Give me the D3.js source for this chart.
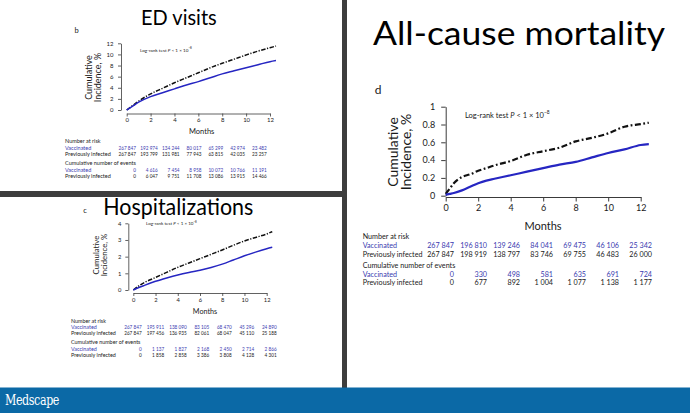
<!DOCTYPE html>
<html><head><meta charset="utf-8">
<script src="https://cdn.jsdelivr.net/npm/d3@7"></script>
<style>
body{margin:0;background:#fff;}
svg{display:block;font-family:Lato,"Noto Sans",sans-serif;}
</style>
</head><body>
<svg id="chart" width="690" height="413"></svg>
<script>
// ---------------- DATA ----------------
const monthTicks = [0, 2, 4, 6, 8, 10, 12];
const tableMonths = [0, 2, 4, 6, 8, 10, 12];

// b: ED visits
const edMonths = [0, 0.5, 1, 2, 3, 4, 5, 6, 7, 8, 9, 10, 11, 12, 12.5];
const edVaccinated = [0, 0.7, 1.4, 2.4, 3.1, 3.8, 4.5, 5.1, 5.8, 6.5, 7.05, 7.6, 8.15, 8.7, 8.9];
const edPrevInfected = [0, 0.8, 1.6, 2.9, 3.9, 4.9, 5.8, 6.7, 7.6, 8.4, 9.15, 9.9, 10.6, 11.2, 11.5];
const edYTicks = [0, 2, 4, 6, 8, 10, 12];
const edRiskVacc = [267847, 192974, 134244, 80017, 65299, 42974, 23482];
const edRiskPrev = [267847, 193799, 131981, 77943, 63815, 42035, 23257];
const edEventsVacc = [0, 4616, 7454, 8958, 10072, 10766, 11191];
const edEventsPrev = [0, 6047, 9751, 11708, 13086, 13915, 14466];

// c: Hospitalizations
const hospMonths = [0, 0.5, 1, 2, 3, 4, 5, 6, 7, 8, 9, 10, 11, 12, 12.5];
const hospVaccinated = [0, 0.15, 0.28, 0.52, 0.72, 0.9, 1.05, 1.18, 1.35, 1.55, 1.8, 2.05, 2.27, 2.47, 2.56];
const hospPrevInfected = [0, 0.25, 0.45, 0.75, 1.06, 1.36, 1.62, 1.88, 2.14, 2.4, 2.68, 2.94, 3.15, 3.36, 3.5];
const hospYTicks = [0, 1, 2, 3, 4];
const hospRiskVacc = [267847, 195911, 138090, 83105, 68470, 45296, 24890];
const hospRiskPrev = [267847, 197456, 136935, 82061, 68047, 45110, 25188];
const hospEventsVacc = [0, 1137, 1827, 2168, 2450, 2714, 2866];
const hospEventsPrev = [0, 1858, 2858, 3386, 3808, 4128, 4301];

// d: All-cause mortality
const mortMonths = [0, 0.25, 0.5, 1, 1.5, 2, 2.5, 3, 4, 5, 6, 7, 8, 9, 10, 11, 12, 12.5];
const mortVaccinated = [0.01, 0.02, 0.03, 0.06, 0.10, 0.14, 0.17, 0.19, 0.23, 0.27, 0.31, 0.35, 0.38, 0.43, 0.48, 0.52, 0.57, 0.58];
const mortPrevInfected = [0.02, 0.08, 0.14, 0.21, 0.24, 0.28, 0.31, 0.34, 0.39, 0.46, 0.50, 0.54, 0.61, 0.65, 0.70, 0.775, 0.805, 0.82];
const mortYTicks = [0, 0.2, 0.4, 0.6, 0.8, 1];
const mortRiskVacc = [267847, 196810, 139246, 84041, 69475, 46106, 25342];
const mortRiskPrev = [267847, 198919, 138797, 83746, 69755, 46483, 26000];
const mortEventsVacc = [0, 330, 498, 581, 635, 691, 724];
const mortEventsPrev = [0, 677, 892, 1004, 1077, 1138, 1177];

// ---------------- STYLE ----------------
const BLUE_LINE = "#2626c2";
const BLUE_TEXT = "#3b3bb0";
const DARK = "#1a1a1a";
const AXIS = "#3a3a3a";

const svg = d3.select("#chart");
const fmt = n => d3.format(",")(n).replace(/,/g, " ");

// separators & footer
svg.append("rect").attr("x", 342).attr("y", 0).attr("width", 5).attr("height", 388).attr("fill", "#3d3d3d");
svg.append("rect").attr("x", 0).attr("y", 191).attr("width", 342).attr("height", 6).attr("fill", "#3d3d3d");
svg.append("rect").attr("x", 0).attr("y", 387.5).attr("width", 690).attr("height", 26).attr("fill", "#0b69a6");
svg.append("text").attr("x", 5).attr("y", 405).attr("fill", "#fff")
  .attr("font-family", "'DejaVu Serif','Liberation Serif',serif").attr("font-size", 14)
  .attr("textLength", 54).attr("lengthAdjust", "spacingAndGlyphs").attr("letter-spacing", -0.5)
  .text("Medscape");

function drawPanel(cfg) {
  const g = svg.append("g");
  // title
  g.append("text").attr("x", cfg.title.x).attr("y", cfg.title.base)
    .attr("font-size", cfg.title.size).attr("fill", "#000")
    .attr("textLength", cfg.title.w).attr("lengthAdjust", "spacingAndGlyphs")
    .text(cfg.title.text);
  // panel letter
  g.append("text").attr("x", cfg.letter.x).attr("y", cfg.letter.y)
    .attr("dominant-baseline", "central").attr("text-anchor", "middle")
    .attr("font-size", cfg.letter.size).attr("fill", DARK).text(cfg.letter.text);

  const x = d3.scaleLinear().domain([0, 12]).range([cfg.x0, cfg.x1]);
  const y = d3.scaleLinear().domain([0, cfg.yMax]).range([cfg.y0, cfg.y1]);

  // axes
  const yAxis = d3.axisLeft(y).tickValues(cfg.yTicks).tickFormat(cfg.yFmt)
    .tickSize(cfg.tickSize).tickPadding(cfg.yPad).tickSizeOuter(0);
  const xAxis = d3.axisBottom(x).tickValues(monthTicks).tickFormat(d3.format("d"))
    .tickSize(cfg.tickSize).tickPadding(cfg.xPad).tickSizeOuter(0);
  const ya = g.append("g").attr("transform", `translate(${cfg.yAxisX},0)`).call(yAxis);
  const xa = g.append("g").attr("transform", `translate(0,${cfg.xAxisY})`).call(xAxis);
  [ya, xa].forEach(a => {
    a.select(".domain").attr("stroke", AXIS).attr("stroke-width", cfg.axisW);
    a.selectAll(".tick line").attr("stroke", AXIS).attr("stroke-width", cfg.axisW);
    a.selectAll("text").attr("font-size", cfg.tickFont).attr("fill", DARK)
      .attr("font-family", "Lato,'Noto Sans',sans-serif");
  });

  // axis titles
  g.append("text").attr("x", cfg.monthsLab.x).attr("y", cfg.monthsLab.y)
    .attr("text-anchor", "middle").attr("dominant-baseline", "central")
    .attr("font-size", cfg.monthsLab.size).attr("fill", DARK).text("Months");
  ["Cumulative", "Incidence, %"].forEach((t, i) => {
    g.append("text")
      .attr("transform", `translate(${cfg.yLab.xs[i]},${cfg.yLab.cy}) rotate(-90)`)
      .attr("text-anchor", "middle").attr("dominant-baseline", "central")
      .attr("font-size", cfg.yLab.size).attr("fill", DARK).text(t);
  });

  // log-rank text
  const lr = g.append("text").attr("x", cfg.logrank.x).attr("y", cfg.logrank.y)
    .attr("dominant-baseline", "central").attr("font-size", cfg.logrank.size).attr("fill", DARK);
  lr.append("tspan").text("Log-rank test ");
  lr.append("tspan").attr("font-style", "italic").text("P");
  lr.append("tspan").text(" < 1 \u00d7 10");
  lr.append("tspan").attr("dy", -cfg.logrank.size * 0.4).attr("font-size", cfg.logrank.size * 0.65).text("\u22128");

  // curves
  const line = d3.line().x(d => x(d[0])).y(d => y(d[1])).curve(d3.curveMonotoneX);
  g.append("path").datum(d3.zip(cfg.months, cfg.prev)).attr("d", line)
    .attr("fill", "none").attr("stroke", "#111").attr("stroke-width", cfg.lineW)
    .attr("stroke-dasharray", cfg.dash);
  g.append("path").datum(d3.zip(cfg.months, cfg.vacc)).attr("d", line)
    .attr("fill", "none").attr("stroke", BLUE_LINE).attr("stroke-width", cfg.lineW);

  // risk table
  const col = d3.scaleLinear().domain([0, 12]).range([cfg.table.first, cfg.table.first + 6 * cfg.table.step]);
  const rows = [
    { label: "Number at risk", color: DARK, vals: null },
    { label: "Vaccinated", color: BLUE_TEXT, vals: cfg.riskVacc },
    { label: "Previously infected", color: DARK, vals: cfg.riskPrev },
    { label: "Cumulative number of events", color: DARK, vals: null },
    { label: "Vaccinated", color: BLUE_TEXT, vals: cfg.evVacc },
    { label: "Previously infected", color: DARK, vals: cfg.evPrev }
  ];
  rows.forEach((r, i) => {
    const yy = cfg.table.ys[i];
    g.append("text").attr("x", cfg.table.labelX).attr("y", yy)
      .attr("dominant-baseline", "central").attr("font-size", cfg.table.size)
      .attr("fill", r.color).text(r.label);
    if (r.vals) {
      g.selectAll(null).data(r.vals).enter().append("text")
        .attr("x", (d, j) => col(tableMonths[j])).attr("y", yy)
        .attr("text-anchor", "end").attr("dominant-baseline", "central")
        .attr("font-size", cfg.table.numSize).attr("fill", r.color)
        .text(d => fmt(d));
    }
  });
}

// Panel b: ED visits
drawPanel({
  title: { text: "ED visits", x: 141, base: 25, w: 75.7, size: 21 },
  letter: { text: "b", x: 76.7, y: 30, size: 7.5 },
  x0: 126.7, x1: 270, y0: 110, y1: 43.3, yMax: 12,
  yTicks: edYTicks, yFmt: d3.format("d"),
  yAxisX: 121, xAxisY: 113.5, tickSize: 3, yPad: 4.5, xPad: 1.5, tickFont: 6, axisW: 0.8,
  monthsLab: { x: 201.7, y: 131.7, size: 7.5 },
  yLab: { xs: [88.3, 97.7], cy: 77.5, size: 9 },
  logrank: { x: 140, y: 50, size: 4.6 },
  months: edMonths, vacc: edVaccinated, prev: edPrevInfected,
  lineW: 1.5, dash: "4.5,1.5,1.2,1.5",
  riskVacc: edRiskVacc, riskPrev: edRiskPrev, evVacc: edEventsVacc, evPrev: edEventsPrev,
  table: { labelX: 65, ys: [141, 148.3, 154.3, 163.3, 169.7, 175.7], first: 136, step: 21.8, size: 5.5, numSize: 4.7 }
});

// Panel c: Hospitalizations
drawPanel({
  title: { text: "Hospitalizations", x: 103.3, base: 215, w: 150, size: 23.5 },
  letter: { text: "c", x: 85, y: 210, size: 7.5 },
  x0: 133.3, x1: 266.7, y0: 290, y1: 223.3, yMax: 4,
  yTicks: hospYTicks, yFmt: d3.format("d"),
  yAxisX: 128.3, xAxisY: 293, tickSize: 3, yPad: 4, xPad: 1.5, tickFont: 5.8, axisW: 0.8,
  monthsLab: { x: 205, y: 311.7, size: 7.2 },
  yLab: { xs: [96, 104.3], cy: 255, size: 7.8 },
  logrank: { x: 146, y: 223.3, size: 4.5 },
  months: hospMonths, vacc: hospVaccinated, prev: hospPrevInfected,
  lineW: 1.5, dash: "4.5,1.5,1.2,1.5",
  riskVacc: hospRiskVacc, riskPrev: hospRiskPrev, evVacc: hospEventsVacc, evPrev: hospEventsPrev,
  table: { labelX: 71, ys: [320.7, 327.3, 333.3, 342.3, 348.7, 355], first: 141.7, step: 22.5, size: 5.4, numSize: 4.7 }
});

// Panel d: All-cause mortality
drawPanel({
  title: { text: "All-cause mortality", x: 373, base: 45, w: 292, size: 32 },
  letter: { text: "d", x: 378, y: 89, size: 12 },
  x0: 445.7, x1: 640.7, y0: 195.7, y1: 106.7, yMax: 1,
  yTicks: mortYTicks, yFmt: d => d3.format("~g")(d),
  yAxisX: 445.7, xAxisY: 197, tickSize: 4.5, yPad: 6, xPad: 3, tickFont: 9, axisW: 1,
  monthsLab: { x: 543, y: 225.7, size: 11 },
  yLab: { xs: [392, 405], cy: 152, size: 14 },
  logrank: { x: 465, y: 115, size: 7.5 },
  months: mortMonths, vacc: mortVaccinated, prev: mortPrevInfected,
  lineW: 2.2, dash: "6,2.5,1.8,2.5",
  riskVacc: mortRiskVacc, riskPrev: mortRiskPrev, evVacc: mortEventsVacc, evPrev: mortEventsPrev,
  table: { labelX: 362.7, ys: [236.7, 245.7, 254.3, 265, 274.3, 282.7], first: 454, step: 33, size: 7.2, numSize: 7.2 }
});
</script>
</body></html>
